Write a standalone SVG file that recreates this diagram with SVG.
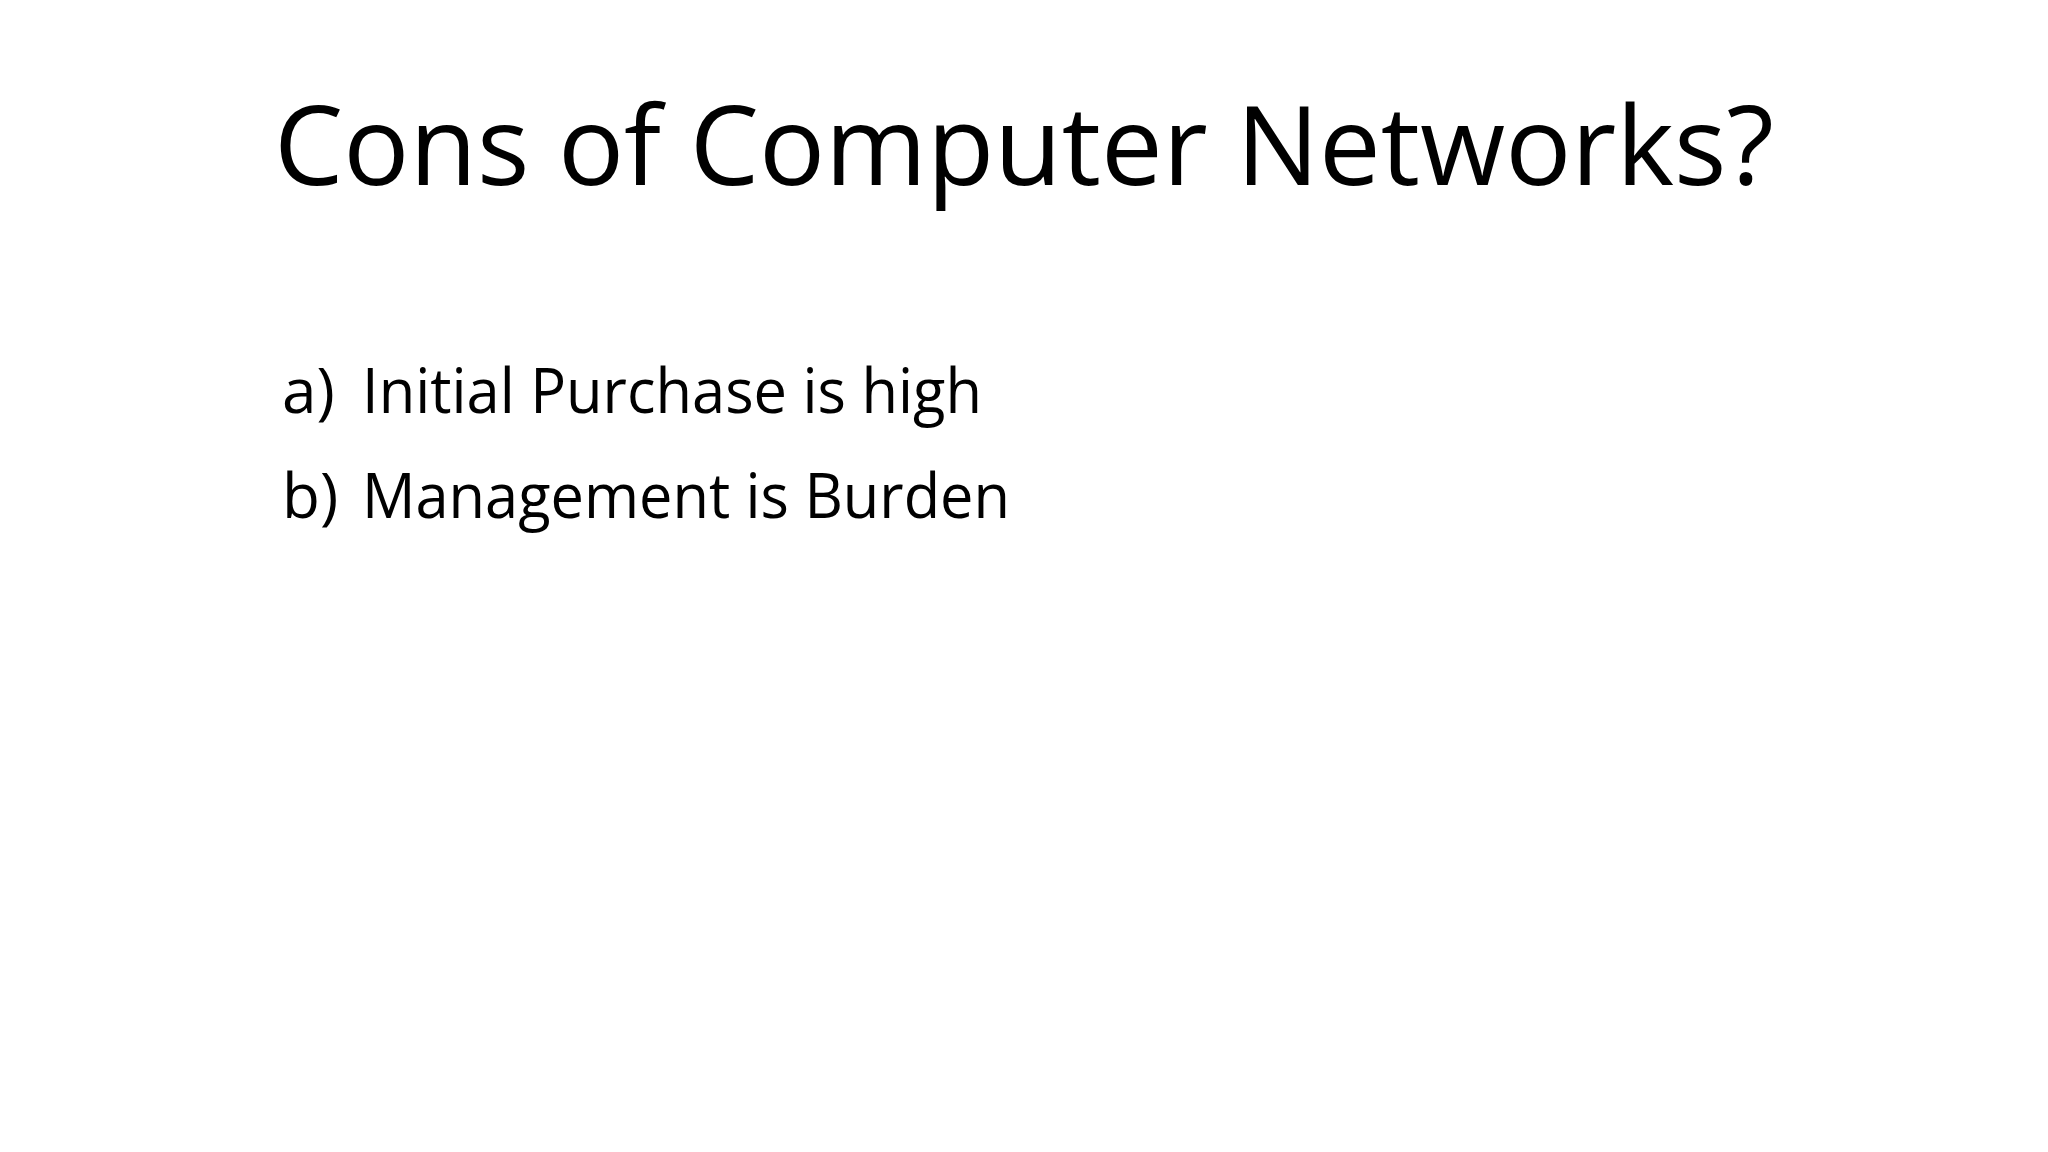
<svg xmlns="http://www.w3.org/2000/svg" width="2048" height="1152" viewBox="0 0 2048 1152">
<style>
text{font-family:"Open Sans","Noto Sans",sans-serif;fill:#000}
.t{font-size:110px}
.b{font-size:62px}
</style>
<rect width="2048" height="1152" fill="#fff"/>
<g id="title"><text class="t" x="1024" y="185" text-anchor="middle" textLength="1500" lengthAdjust="spacingAndGlyphs">Cons of Computer Networks?</text></g>
<g id="item-a"><text class="b" x="282" y="413">a)</text><text class="b" x="362" y="413" textLength="620" lengthAdjust="spacingAndGlyphs">Initial Purchase is high</text></g>
<g id="item-b"><text class="b" x="282" y="518">b)</text><text class="b" x="362" y="518" textLength="648" lengthAdjust="spacingAndGlyphs">Management is Burden</text></g>
<g id="connectors"/>
</svg>
